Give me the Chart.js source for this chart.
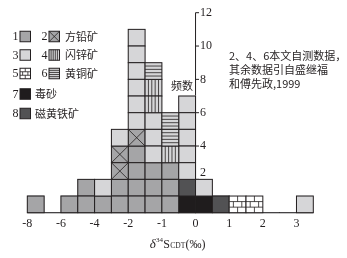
<!DOCTYPE html>
<html><head><meta charset="utf-8">
<script src="https://cdn.jsdelivr.net/npm/chart.js@4.4.1/dist/chart.umd.min.js"></script>
<style>html,body{margin:0;padding:0;background:#fff;overflow:hidden;}</style>
</head><body>
<canvas id="c" width="347" height="258" style="width:347px;height:258px;display:block"></canvas>
<script>
// ---- data ----
const binStarts = ['-8','-7','-6','-5','-4','-3','-2','-1.5','-1','-0.5','0','0.5','1','1.5','2','2.5','3'];
const xTickLabels = ['-8','-6','-4','-2','-1','0','1','2','3'];
const yTickValues = [2,4,6,8,10,12];
// counts per bin for each legend type (1..8)
const type1 = [1,0,1,2,1,2,4,3,3,0,0,0,0,0,0,0,0];
const type2 = [0,0,0,0,0,2,1,0,0,0,0,0,0,0,0,0,0];
const type3 = [0,0,0,0,1,1,6,3,0,5,1,0,0,0,0,0,1];
const type4 = [0,0,0,0,0,0,0,2,1,0,0,0,0,0,0,0,0];
const type5 = [0,0,0,0,0,0,0,0,0,0,0,0,1,1,0,0,0];
const type6 = [0,0,0,0,0,0,0,1,2,0,0,0,0,0,0,0,0];
const type7 = [0,0,0,0,0,0,0,0,0,1,1,0,0,0,0,0,0];
const type8 = [0,0,0,0,0,0,0,0,0,1,0,1,0,0,0,0,0];
const minerals = ['方铅矿','闪锌矿','黄铜矿','毒砂','磁黄铁矿'];
const legendTypes = [[1,2],[3,4],[5,6],[7],[8]];
const noteLines = ['2、4、6本文自测数据，','其余数据引自盛继福','和傅先政,1999'];
const yTitle = '频数';

// ---- styles ----
const fills = {1:'#a5a5a7',2:'#a5a5a7',3:'#d6d6d8',4:'#d6d6d8',5:'#ffffff',6:'#d6d6d8',7:'#1f1c1d',8:'#525254'};
const edge = '#231f20';
const serif = '"Liberation Serif","Noto Sans CJK SC",serif';
const cjk = '"Noto Sans CJK SC",sans-serif';

function drawCell(ctx, t, x, y, w, h){
  ctx.save();
  ctx.fillStyle = fills[t];
  ctx.fillRect(x, y, w, h);
  ctx.strokeStyle = edge;
  ctx.lineWidth = 0.8;
  ctx.beginPath();
  if (t === 2){
    ctx.moveTo(x, y); ctx.lineTo(x+w, y+h);
    ctx.moveTo(x+w, y); ctx.lineTo(x, y+h);
  } else if (t === 4){
    for (let k=1;k<5;k++){ ctx.moveTo(x+w*k/5, y); ctx.lineTo(x+w*k/5, y+h); }
  } else if (t === 6){
    for (let k=1;k<5;k++){ ctx.moveTo(x, y+h*k/5); ctx.lineTo(x+w, y+h*k/5); }
  } else if (t === 5){
    for (let k=1;k<3;k++){ ctx.moveTo(x, y+h*k/3); ctx.lineTo(x+w, y+h*k/3); }
    ctx.moveTo(x+w/2, y); ctx.lineTo(x+w/2, y+h/3);
    ctx.moveTo(x+w/4, y+h/3); ctx.lineTo(x+w/4, y+2*h/3);
    ctx.moveTo(x+3*w/4, y+h/3); ctx.lineTo(x+3*w/4, y+2*h/3);
    ctx.moveTo(x+w/2, y+2*h/3); ctx.lineTo(x+w/2, y+h);
  }
  ctx.stroke();
  ctx.lineWidth = 1;
  ctx.strokeRect(x, y, w, h);
  ctx.restore();
}

const order = [7,8,1,2,3,4,6,5];
const seriesByType = {1:type1,2:type2,3:type3,4:type4,5:type5,6:type6,7:type7,8:type8};
const datasets = order.map(t => ({
  label: String(t), typeId: t, data: seriesByType[t],
  backgroundColor: fills[t], borderWidth: 0, stack: 's'
}));

const decor = {
  id: 'decor',
  beforeDatasetsDraw(chart){
    const ctx = chart.ctx, xs = chart.scales.x, ys = chart.scales.y;
    const x0 = xs.getPixelForValue(-0.5), x1 = xs.getPixelForValue(binStarts.length - 0.5);
    const yb = ys.getPixelForValue(0);
    ctx.save();
    ctx.strokeStyle = '#8c8c8c'; ctx.lineWidth = 1.6;
    ctx.beginPath(); ctx.moveTo(x0, yb); ctx.lineTo(x1, yb); ctx.stroke();
    // y axis at δ = 0
    const zi = binStarts.indexOf('0');
    const ax = xs.getPixelForValue(zi - 0.5);
    ctx.strokeStyle = edge; ctx.lineWidth = 1;
    ctx.beginPath(); ctx.moveTo(ax, ys.getPixelForValue(12)); ctx.lineTo(ax, yb); ctx.stroke();
    ctx.beginPath();
    yTickValues.forEach(v => { const py = ys.getPixelForValue(v); ctx.moveTo(ax, py); ctx.lineTo(ax+3.5, py); });
    ctx.stroke();
    ctx.restore();
  },
  afterDatasetsDraw(chart){
    const ctx = chart.ctx, xs = chart.scales.x, ys = chart.scales.y;
    chart.data.datasets.forEach((ds, di) => {
      const meta = chart.getDatasetMeta(di);
      meta.data.forEach((el, i) => {
        const v = ds.data[i];
        if (!v) return;
        const p = el.getProps(['x','y','base','width'], true);
        const h = (p.base - p.y) / v;
        for (let k=0;k<v;k++) drawCell(ctx, ds.typeId, p.x - p.width/2, p.y + k*h, p.width, h);
      });
    });
    ctx.save();
    ctx.fillStyle = '#231f20';
    // x tick labels at bin boundaries
    ctx.font = '12px ' + serif; ctx.textAlign = 'center'; ctx.textBaseline = 'middle';
    xTickLabels.forEach(l => {
      const idx = binStarts.indexOf(l);
      ctx.fillText(l, xs.getPixelForValue(idx - 0.5), ys.getPixelForValue(0) + 11.5);
    });
    // y tick labels
    const zi = binStarts.indexOf('0');
    const ax = xs.getPixelForValue(zi - 0.5);
    const colTotal = order.reduce((s,t)=>s+seriesByType[t][zi],0);
    ctx.textAlign = 'left';
    yTickValues.forEach(v => {
      let py = ys.getPixelForValue(v);
      if (colTotal >= v) py = ys.getPixelForValue(colTotal) - 6.5;
      ctx.fillText(String(v), ax + 4.5, py);
    });
    // y title
    ctx.font = '11px ' + cjk; ctx.textAlign = 'center';
    ctx.fillText(yTitle, ax - 13.5, ys.getPixelForValue(7.6));
    // x title δ34SCDT(‰)
    const baseY = 247.5;
    const parts = [
      {t:'δ', f:'italic 13px ' + serif, dy:0},
      {t:'34', f:'7px ' + serif, dy:-6},
      {t:'S', f:'12px ' + serif, dy:0},
      {t:'CDT', f:'7.5px ' + serif, dy:0},
      {t:'(‰)', f:'12px ' + serif, dy:0}
    ];
    let tw = 0;
    parts.forEach(p => { ctx.font = p.f; p.w = ctx.measureText(p.t).width; tw += p.w; });
    let cx = xs.getPixelForValue(zi - 1.6) - tw/2;
    ctx.textAlign = 'left'; ctx.textBaseline = 'alphabetic';
    parts.forEach(p => { ctx.font = p.f; ctx.fillText(p.t, cx, baseY + p.dy); cx += p.w + 0.3; });
    // legend
    const rowY = [36.5, 55, 73.5, 94, 113.5];
    legendTypes.forEach((types, r) => {
      const cy = rowY[r];
      types.forEach((t, j) => {
        const bx = 20 + j*29;
        ctx.font = '12px ' + serif; ctx.textAlign = 'right'; ctx.textBaseline = 'middle';
        ctx.fillStyle = '#231f20';
        ctx.fillText(String(t), bx - 1.5, cy + 0.5);
        drawCell(ctx, t, bx, cy - 5.25, 10.5, 10.5);
      });
      ctx.font = '11px ' + cjk; ctx.textAlign = 'left'; ctx.fillStyle = '#231f20';
      ctx.fillText(minerals[r], types.length === 2 ? 65 : 35, cy);
    });
    // note
    ctx.font = '11px ' + cjk; ctx.textAlign = 'left';
    noteLines.forEach((l, i) => ctx.fillText(l, 229, 56 + i*14));
    ctx.restore();
  }
};

new Chart(document.getElementById('c'), {
  type: 'bar',
  data: { labels: binStarts, datasets },
  options: {
    responsive: false, animation: false, devicePixelRatio: 1,
    layout: { padding: { left: 27.3, right: 33.7, top: 12.7, bottom: 45.3 } },
    plugins: { legend: { display: false }, tooltip: { enabled: false } },
    datasets: { bar: { barPercentage: 1, categoryPercentage: 1 } },
    scales: {
      x: { display: false, stacked: true },
      y: { display: false, stacked: true, min: 0, max: 12 }
    }
  },
  plugins: [decor]
});
</script>
</body></html>
